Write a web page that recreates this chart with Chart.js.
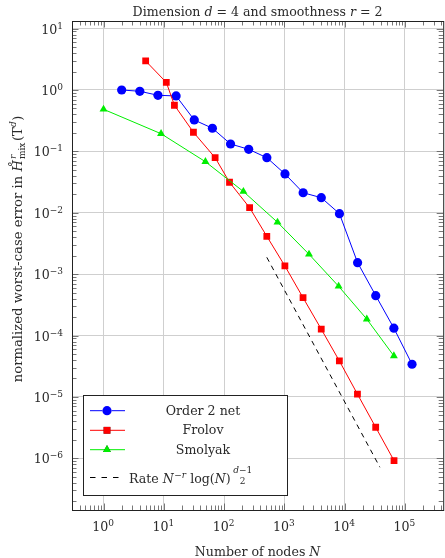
<!DOCTYPE html>
<html><head><meta charset="utf-8">
<script src="https://cdn.jsdelivr.net/npm/chart.js@4"></script>
<style>
html,body{margin:0;padding:0;overflow:hidden;background:#fff}
#wrap{position:relative;width:448px;height:558px}
</style>
</head><body>
<div id="wrap"><canvas id="c"></canvas></div>
<script>
// ---- data ----
const netN   = [2, 4, 8, 16, 32, 64, 128, 256, 512, 1024, 2048, 4096, 8192, 16384, 32768, 65536, 131072];
const netErr = [1.0, 0.953, 0.82, 0.80, 0.325, 0.238, 0.132, 0.108, 0.0789, 0.0429, 0.0212, 0.0176, 0.00967, 0.00154, 0.000447, 0.000132, 3.41e-5];

const frolovN   = [5, 11, 15, 31, 71, 123, 265, 511, 1020, 2040, 4090, 8170, 16300, 32700, 65900];
const frolovErr = [2.97, 1.33, 0.564, 0.205, 0.0789, 0.0314, 0.0121, 0.00414, 0.00136, 0.000414, 0.000127, 3.86e-5, 1.11e-5, 3.21e-6, 9.18e-7];

const smolyakN   = [1, 9, 49, 209, 769, 2561, 7937, 23297, 65537];
const smolyakErr = [0.485, 0.194, 0.0679, 0.0222, 0.0070, 0.00211, 0.000635, 0.000185, 4.66e-5];

const rateN   = [511, 38400];
const rateErr = [0.00188, 7.16e-7];

const xTickExp = [0, 1, 2, 3, 4, 5];
const yTickExp = [1, 0, -1, -2, -3, -4, -5, -6];
const seriesNames = ['Order 2 net', 'Frolov', 'Smolyak'];

const X_MIN = 0.313, X_MAX = 4.31e5, Y_MIN = 1.44e-7, Y_MAX = 13.3;

function pts(xs, ys) { return xs.map((x, i) => ({x: x, y: ys[i]})); }

const FAM = '"DejaVu Serif", "Liberation Serif", serif';
const F = (sz, it) => (it ? 'italic ' : '') + sz + 'px ' + FAM;
const BS = 12.6, SS = 9;

function stackWidth(ctx, stack) {
  let mw = 0;
  stack.forEach(s => { ctx.font = s.font; mw = Math.max(mw, ctx.measureText(s.t).width); });
  return mw;
}
function runW(ctx, r) {
  if (r.stack) return stackWidth(ctx, r.stack) + (r.pad || 0);
  ctx.font = r.font; return ctx.measureText(r.t).width + (r.pad || 0);
}
function runsWidth(ctx, runs) {
  let w = 0; runs.forEach(r => { w += runW(ctx, r); }); return w;
}
function drawRuns(ctx, runs, x, y, align) {
  const w = runsWidth(ctx, runs);
  let cx = align === 'center' ? x - w / 2 : (align === 'right' ? x - w : x);
  ctx.textAlign = 'left';
  ctx.textBaseline = 'alphabetic';
  runs.forEach(r => {
    if (r.stack) {
      r.stack.forEach(s => { ctx.font = s.font; ctx.fillText(s.t, cx, y + s.dy); });
    } else {
      ctx.font = r.font;
      ctx.fillText(r.t, cx, y + (r.dy || 0));
    }
    cx += runW(ctx, r);
  });
  return cx;
}

function expLabel(e) {
  const s = (e < 0 ? '\u2212' : '') + Math.abs(e);
  return [{t: '10', font: F(BS)}, {t: s, font: F(SS), dy: -5}];
}

const decor = {
  id: 'decor',
  afterDraw(chart) {
    const ctx = chart.ctx;
    const a = chart.chartArea;
    const xs = chart.scales.x, ys = chart.scales.y;
    ctx.save();
    // minor & major ticks
    ctx.strokeStyle = '#555';
    ctx.lineWidth = 0.8;
    ctx.beginPath();
    for (let k = -1; k <= 6; k++) {
      for (let m = 1; m <= 9; m++) {
        const v = m * Math.pow(10, k);
        if (v < X_MIN || v > X_MAX) continue;
        const px = Math.round(xs.getPixelForValue(v)) + 0.5;
        const L = m === 1 ? 6.5 : 4.5;
        ctx.moveTo(px, a.bottom); ctx.lineTo(px, a.bottom - L);
        ctx.moveTo(px, a.top); ctx.lineTo(px, a.top + L);
      }
    }
    for (let k = -7; k <= 1; k++) {
      for (let m = 1; m <= 9; m++) {
        const v = m * Math.pow(10, k);
        if (v < Y_MIN || v > Y_MAX) continue;
        const py = Math.round(ys.getPixelForValue(v)) + 0.5;
        const L = m === 1 ? 6.5 : 4.5;
        ctx.moveTo(a.left, py); ctx.lineTo(a.left + L, py);
        ctx.moveTo(a.right, py); ctx.lineTo(a.right - L, py);
      }
    }
    ctx.stroke();
    // frame
    ctx.strokeStyle = '#222';
    ctx.lineWidth = 1;
    ctx.strokeRect(Math.round(a.left) + 0.5, Math.round(a.top) + 0.5, a.right - a.left, a.bottom - a.top);

    ctx.fillStyle = '#2a2a2a';
    // x tick labels
    xTickExp.forEach(e => {
      const px = xs.getPixelForValue(Math.pow(10, e));
      drawRuns(ctx, expLabel(e), px - 0.5, 531, 'center');
    });
    // y tick labels
    yTickExp.forEach(e => {
      const py = ys.getPixelForValue(Math.pow(10, e));
      drawRuns(ctx, expLabel(e), 63, py + 5, 'right');
    });
    // title
    drawRuns(ctx, [
      {t: 'Dimension ', font: F(BS)}, {t: 'd', font: F(BS, true)},
      {t: ' = 4 and smoothness ', font: F(BS)}, {t: 'r', font: F(BS, true)},
      {t: ' = 2', font: F(BS)}
    ], (a.left + a.right) / 2, 16, 'center');
    // x label
    drawRuns(ctx, [{t: 'Number of nodes ', font: F(BS)}, {t: 'N', font: F(BS, true)}],
      (a.left + a.right) / 2, 556, 'center');
    // y label (rotated)
    ctx.save();
    ctx.translate(22, 249);
    ctx.rotate(-Math.PI / 2);
    const YS = 13.2;
    const stk = [{t: 'r', font: F(SS, true), dy: -6}, {t: 'mix', font: F(SS), dy: 3}];
    drawRuns(ctx, [
      {t: 'normalized worst-case error in ', font: F(YS)},
      {t: 'H\u030A', font: F(YS, true), pad: 1},
      {stack: stk, pad: 1.5},
      {t: '(T', font: F(YS)}, {t: 'd', font: F(SS, true), dy: -6, pad: 0.5}, {t: ')', font: F(YS)}
    ], 0, 0, 'center');
    ctx.restore();

    // legend
    const lx = 83.5, ly = 395.5, lw = 204, lh = 100;
    ctx.fillStyle = '#fff';
    ctx.fillRect(lx, ly, lw, lh);
    ctx.strokeStyle = '#222';
    ctx.lineWidth = 1;
    ctx.strokeRect(lx, ly, lw, lh);
    const rowsY = [410.7, 430.3, 449.7];
    chart.data.datasets.slice(0, 3).forEach((ds, i) => {
      const y = rowsY[i];
      ctx.strokeStyle = ds.borderColor;
      ctx.lineWidth = 1;
      ctx.setLineDash([]);
      ctx.beginPath(); ctx.moveTo(90, y); ctx.lineTo(125, y); ctx.stroke();
      Chart.helpers.drawPoint(ctx, {pointStyle: ds.pointStyle, radius: ds.pointRadius, borderWidth: 0, rotation: 0}, 107, y);
      ctx.fillStyle = ds.backgroundColor;
      ctx.fill();
      ctx.fillStyle = '#2a2a2a';
      drawRuns(ctx, [{t: seriesNames[i], font: F(BS)}], 203, y + 4, 'center');
    });
    ctx.strokeStyle = '#000';
    ctx.setLineDash([5.5, 6]);
    ctx.beginPath(); ctx.moveTo(90, 477.5); ctx.lineTo(121, 477.5); ctx.stroke();
    ctx.setLineDash([]);
    ctx.fillStyle = '#2a2a2a';
    const endX = drawRuns(ctx, [
      {t: 'Rate ', font: F(BS)}, {t: 'N', font: F(BS, true), pad: 0.5},
      {t: '\u2212r', font: F(SS, true), dy: -5}, {t: ' log(', font: F(BS)},
      {t: 'N', font: F(BS, true)}, {t: ')', font: F(BS)}
    ], 129, 483.3, 'left');
    const numRuns = [{t: 'd', font: F(SS, true)}, {t: '\u22121', font: F(SS)}];
    const fw = runsWidth(ctx, numRuns);
    const fx = endX + 2.5 + fw / 2;
    drawRuns(ctx, numRuns, fx, 472.5, 'center');
    drawRuns(ctx, [{t: '2', font: F(SS)}], fx, 483.5, 'center');
    ctx.restore();
  }
};

const common = {showLine: true, borderWidth: 1, tension: 0, pointBorderWidth: 0};
const chart = new Chart(document.getElementById('c'), {
  type: 'scatter',
  data: {
    datasets: [
      Object.assign({label: seriesNames[0], data: pts(netN, netErr), borderColor: '#0000ff', backgroundColor: '#0000ff', pointStyle: 'circle', pointRadius: 4.6, order: 4}, common),
      Object.assign({label: seriesNames[1], data: pts(frolovN, frolovErr), borderColor: '#ff0000', backgroundColor: '#ff0000', pointStyle: 'rect', pointRadius: 4.8, order: 3}, common),
      Object.assign({label: seriesNames[2], data: pts(smolyakN, smolyakErr), borderColor: '#00ee00', backgroundColor: '#00ee00', pointStyle: 'triangle', pointRadius: 4.6, order: 2}, common),
      Object.assign({}, common, {label: 'Rate', data: pts(rateN, rateErr), borderColor: '#000', backgroundColor: '#000', pointRadius: 0, borderDash: [5, 4.5], order: 1})
    ]
  },
  options: {
    responsive: true,
    maintainAspectRatio: false,
    animation: false,
    layout: {padding: {top: 21, right: 2, left: 0, bottom: 0}},
    plugins: {legend: {display: false}, title: {display: false}, tooltip: {enabled: false}},
    scales: {
      x: {
        type: 'logarithmic', position: 'bottom', min: X_MIN, max: X_MAX,
        afterBuildTicks: s => { s.ticks = xTickExp.map(e => ({value: Math.pow(10, e)})); },
        afterFit: s => { s.height = 48; },
        ticks: {display: false},
        grid: {color: '#cfcfcf', lineWidth: 1, drawTicks: false},
        border: {display: false}
      },
      y: {
        type: 'logarithmic', position: 'left', min: Y_MIN, max: Y_MAX,
        afterBuildTicks: s => { s.ticks = yTickExp.map(e => ({value: Math.pow(10, e)})); },
        afterFit: s => { s.width = 72; },
        ticks: {display: false},
        grid: {color: '#cfcfcf', lineWidth: 1, drawTicks: false},
        border: {display: false}
      }
    }
  },
  plugins: [decor]
});
</script>
</body></html>
